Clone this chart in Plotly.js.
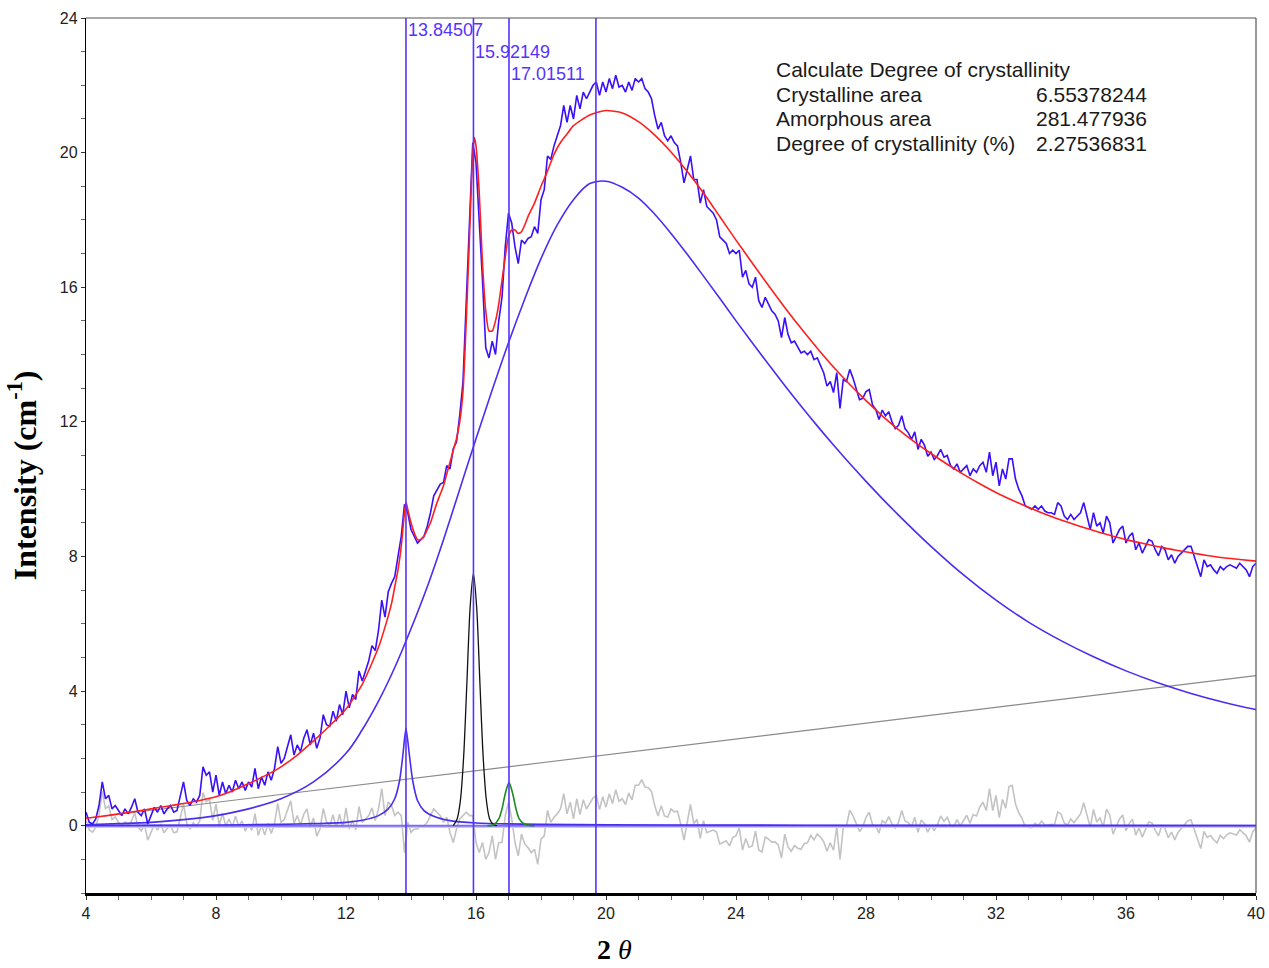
<!DOCTYPE html>
<html>
<head>
<meta charset="utf-8">
<script src="https://cdn.plot.ly/plotly-3.0.1.min.js"></script>
<style>html,body{margin:0;padding:0;background:#fff;}#chart{width:1269px;height:968px;}</style>
</head>
<body>
<div id="chart"></div>
<script>
// ---- data ----
// measured pattern, sampled every 0.1 degree from 2θ = 4 to 40
const dataStart = 4;
const dataStep = 0.1;
const measured = [
  0.4, 0.1, 0.05, 0.2, 0.6, 1.3, 0.8, 0.9, 0.5, 0.6,
  0.45, 0.3, 0.5, 0.35, 0.55, 0.8, 0.4, 0.3, 0.5, 0.05,
  0.3, 0.55, 0.4, 0.6, 0.35, 0.5, 0.6, 0.4, 0.45, 0.9,
  1.3, 0.75, 0.6, 0.8, 0.7, 0.9, 1.75, 1.5, 1.6, 1.0,
  1.5, 0.9, 1.3, 0.95, 1.2, 1.0, 1.35, 1.1, 1.3, 1.05,
  1.3, 1.15, 1.7, 1.1, 1.45, 1.2, 1.6, 1.35, 1.7, 2.35,
  1.85, 2.0, 2.35, 2.7, 2.1, 2.4, 2.2, 2.6, 2.85, 2.4,
  2.75, 2.3, 2.6, 3.3, 3.0, 2.95, 3.4, 3.1, 3.6, 3.3,
  4.0, 3.5, 3.9, 3.75, 4.6, 4.3, 4.6, 4.9, 5.35, 5.2,
  5.8, 6.7, 6.2, 6.95, 7.2, 7.4, 8.0, 8.6, 9.55, 9.3,
  8.8, 8.6, 8.4, 8.5, 8.6, 8.9, 9.3, 9.8, 10.0, 10.15,
  10.2, 10.7, 10.6, 11.2, 11.4, 12.2, 13.2, 15.4, 17.8, 20.3,
  19.7, 18.0, 16.2, 14.2, 13.9, 14.4, 14.0, 15.0, 15.7, 17.2,
  18.2, 17.9, 17.2, 16.7, 17.4, 17.3, 17.45, 17.5, 17.8, 17.6,
  18.6, 18.9, 19.9, 19.8, 20.2, 20.5, 20.8, 21.4, 20.9, 21.4,
  21.0, 21.7, 21.3, 21.8, 21.6, 21.8, 22.0, 22.1, 21.7, 22.1,
  21.8, 22.2, 21.9, 22.3, 21.95, 22.0, 21.8, 22.1, 21.85, 22.2,
  22.1, 22.2, 21.9, 21.8, 21.6, 21.1, 20.7, 20.9, 20.5, 20.35,
  20.5, 20.3, 20.2, 19.7, 19.1, 19.5, 19.9, 19.2, 19.2, 18.5,
  18.9, 18.4, 18.3, 18.2, 18.0, 17.5, 17.4, 17.3, 17.0, 17.1,
  17.0, 17.1, 16.3, 16.5, 16.1, 16.0, 16.3, 15.6, 15.4, 15.7,
  15.5, 15.3, 15.2, 15.0, 14.5, 15.1, 14.6, 14.35, 14.4, 14.2,
  14.05, 14.1, 14.0, 14.1, 13.85, 13.9, 13.7, 13.45, 13.06, 13.2,
  12.87, 13.46, 12.4, 13.25, 13.2, 13.56, 13.3, 12.95, 12.66, 12.7,
  12.9, 12.96, 12.5, 12.37, 12.07, 12.35, 12.18, 12.3, 12.0, 11.8,
  11.9, 12.18, 11.8, 11.68, 11.48, 11.7, 11.18, 11.48, 11.3, 10.98,
  11.1, 10.88, 11.0, 11.18, 10.95, 11.0, 10.7, 10.6, 10.75, 10.5,
  10.6, 10.7, 10.4, 10.6, 10.5, 10.7, 10.8, 10.5, 11.1, 10.4,
  10.8, 10.1, 10.6, 10.3, 10.9, 10.9, 10.3, 10.0, 9.8, 9.5,
  9.45, 9.4, 9.5, 9.4, 9.5, 9.35, 9.3, 9.3, 9.25, 9.6,
  9.5, 9.2, 9.1, 9.25, 9.1, 9.2, 9.3, 9.6, 9.2, 8.8,
  9.3, 8.9, 9.0, 8.7, 9.2, 9.0, 8.4, 8.6, 8.8, 8.9,
  8.4, 8.6, 8.7, 8.2, 8.4, 8.1, 8.3, 8.5, 8.45, 8.2,
  8.02, 8.3, 8.2, 7.9, 8.05, 7.8, 8.0, 8.1, 8.2, 8.3,
  8.3, 8.0, 7.7, 7.4, 7.9, 7.7, 7.75, 7.6, 7.5, 7.7,
  7.6, 7.7, 7.75, 7.7, 7.65, 7.8, 7.7, 7.6, 7.4, 7.7,
  7.8
];

// residual (grey), same sampling
const residual = [
  0.18, -0.13, -0.19, -0.05, 0.33, 1.02, 0.51, 0.59, 0.18, 0.26,
  0.10, -0.06, 0.12, -0.04, 0.14, 0.38, -0.04, -0.15, 0.03, -0.43,
  -0.2, 0.03, -0.13, 0.05, -0.21, -0.08, 0.0, -0.21, -0.18, 0.26,
  0.64, 0.07, -0.10, 0.09, -0.03, 0.15, 0.98, 0.71, 0.78, 0.16,
  0.64, 0.01, 0.37, -0.01, 0.2, -0.03, 0.28, -0.02, 0.14, -0.16,
  0.05, -0.14, 0.36, -0.29, 0.02, -0.28, 0.07, -0.23, 0.06, 0.66,
  0.1, 0.18, 0.46, 0.74, 0.07, 0.3, 0.02, 0.34, 0.5, -0.03,
  0.23, -0.31, -0.1, 0.51, 0.12, -0.02, 0.33, -0.06, 0.34, -0.07,
  0.53, -0.1, 0.16, -0.13, 0.57, 0.1, 0.2, 0.3, 0.53, 0.15,
  0.5, 1.1, 0.3, 0.7, 0.6, 0.3, 0.4, 0.3, -0.8, 0.1,
  -0.2, -0.1, -0.1, 0.0, 0.0, 0.1, 0.3, 0.5, 0.4, 0.3,
  0.1, 0.25, -0.2, -0.5, -0.1, 0.2, 0.3, 0.4, 0.3, 0.3,
  -0.5, -0.8, -0.5, -1.0, -0.8, -0.3, -1.0, -0.5, -0.5, 0.3,
  0.7, 0.2, -0.5, -0.9, -0.25, -0.55, -0.65, -0.8, -0.7, -1.15,
  -0.4, -0.3, 0.45, 0.1, 0.25, 0.35, 0.5, 0.95, 0.35, 0.7,
  0.2, 0.8, 0.33, 0.77, 0.5, 0.65, 0.82, 0.9, 0.48, 0.86,
  0.55, 0.95, 0.66, 1.07, 0.73, 0.8, 0.63, 0.97, 0.77, 1.2,
  1.2, 1.37, 1.15, 1.13, 1.02, 0.6, 0.29, 0.59, 0.29, 0.25,
  0.5, 0.41, 0.43, 0.05, -0.43, 0.1, 0.63, 0.06, 0.19, -0.38,
  0.15, -0.21, -0.17, -0.13, -0.19, -0.55, -0.5, -0.45, -0.6, -0.35,
  -0.3, -0.06, -0.72, -0.38, -0.64, -0.6, -0.16, -0.72, -0.78, -0.34,
  -0.4, -0.49, -0.48, -0.57, -0.96, -0.25, -0.63, -0.76, -0.59, -0.67,
  -0.7, -0.53, -0.51, -0.29, -0.42, -0.25, -0.34, -0.48, -0.76, -0.51,
  -0.73, -0.04, -1.0, -0.05, 0.0, 0.46, 0.29, 0.03, -0.17, -0.04,
  0.25, 0.4, 0.03, -0.01, -0.22, 0.15, 0.07, 0.27, 0.05, -0.07,
  0.1, 0.45, 0.14, 0.09, -0.04, 0.25, -0.2, 0.17, 0.06, -0.19,
  0.0, -0.15, 0.04, 0.29, 0.13, 0.25, 0.01, -0.03, 0.18, -0.01,
  0.15, 0.31, 0.07, 0.33, 0.29, 0.55, 0.7, 0.45, 1.1, 0.45,
  0.9, 0.24, 0.78, 0.52, 1.16, 1.2, 0.64, 0.38, 0.22, -0.04,
  -0.05, -0.06, 0.07, 0.0, 0.14, 0.02, 0.01, 0.04, 0.03, 0.41,
  0.35, 0.08, 0.02, 0.2, 0.09, 0.22, 0.35, 0.68, 0.32, -0.05,
  0.48, 0.11, 0.24, -0.04, 0.49, 0.32, -0.25, -0.03, 0.2, 0.32,
  -0.15, 0.07, 0.19, -0.28, -0.06, -0.34, -0.12, 0.11, 0.08, -0.14,
  -0.3, 0.0, -0.08, -0.36, -0.19, -0.42, -0.2, -0.08, 0.03, 0.15,
  0.17, -0.11, -0.4, -0.68, -0.17, -0.35, -0.29, -0.42, -0.51, -0.29,
  -0.38, -0.27, -0.21, -0.24, -0.28, -0.12, -0.21, -0.3, -0.49, -0.18,
  -0.07
];

// total fit (red)
const fitX = [4,4.5,5,5.5,6,6.5,7,7.5,8,8.5,9,9.5,10,10.5,11,11.5,12,12.5,13,13.2,13.4,13.5,13.6,13.7,13.8,13.85,13.9,14,14.1,14.2,14.3,14.4,14.5,14.6,14.7,14.8,14.9,15,15.1,15.2,15.3,15.4,15.5,15.6,15.7,15.8,15.9,15.95,16,16.1,16.2,16.3,16.4,16.5,16.6,16.7,16.8,16.9,17,17.1,17.2,17.3,17.4,17.5,17.6,17.8,18,18.2,18.4,18.6,18.8,19,19.5,20,20.5,21,21.5,22,22.5,23,23.5,24,24.5,25,25.5,26,26.5,27,27.5,28,28.5,29,29.5,30,30.5,31,31.5,32,32.5,33,33.5,34,34.5,35,35.5,36,36.5,37,37.5,38,38.5,39,39.5,40];
const fitY = [0.22,0.28,0.35,0.42,0.5,0.58,0.66,0.75,0.86,1.03,1.25,1.48,1.75,2.1,2.52,2.97,3.47,4.2,5.3,5.9,6.6,7.1,7.6,8.3,9.3,9.6,9.4,9.0,8.7,8.5,8.5,8.6,8.8,9.0,9.3,9.6,9.85,10.1,10.45,10.8,11.15,11.5,12.0,12.9,15.0,17.5,20.0,20.45,20.2,18.8,16.7,15.3,14.7,14.7,15.0,15.5,16.2,16.9,17.5,17.7,17.7,17.6,17.65,17.85,18.1,18.5,19.0,19.45,19.95,20.3,20.55,20.8,21.12,21.25,21.18,20.92,20.52,20.02,19.44,18.8,18.1,17.4,16.72,16.05,15.4,14.78,14.19,13.63,13.11,12.63,12.18,11.77,11.4,11.06,10.74,10.44,10.16,9.9,9.67,9.46,9.26,9.08,8.92,8.77,8.63,8.5,8.39,8.29,8.19,8.11,8.03,7.96,7.91,7.86];

// amorphous halo (blue)
const amorphX = [4,5,6,7,8,9,10,11,12,12.5,13,13.5,14,14.5,15,15.5,16,16.5,17,17.5,18,18.5,19,19.5,20,20.5,21,21.5,22,22.5,23,23.5,24,24.5,25,25.5,26,26.5,27,27.5,28,28.5,29,30,31,32,33,34,35,36,37,38,39,40];
const amorphY = [0.03,0.06,0.1,0.18,0.3,0.5,0.8,1.3,2.15,2.85,3.7,4.7,5.85,7.1,8.5,10.0,11.5,12.95,14.35,15.65,16.85,17.85,18.6,19.08,19.15,18.97,18.65,18.17,17.6,16.98,16.33,15.67,15.0,14.35,13.71,13.08,12.47,11.88,11.31,10.76,10.23,9.72,9.23,8.3,7.45,6.7,6.05,5.5,5.02,4.6,4.24,3.93,3.67,3.45];

// crystalline peak at 13.84507 (blue)
const peak1X = [4,8,10,11,12,12.5,13,13.3,13.5,13.65,13.75,13.845,13.95,14.05,14.2,14.4,14.7,15.2,16,18,22,30,40];
const peak1Y = [0.005,0.02,0.04,0.06,0.1,0.16,0.3,0.5,0.8,1.35,2.1,2.9,2.1,1.35,0.75,0.45,0.28,0.15,0.08,0.04,0.02,0.01,0.005];

// crystalline peak at 15.92149 (black)
const peak2X = [15.3,15.42,15.52,15.62,15.72,15.82,15.92,16.02,16.12,16.22,16.32,16.42,16.55,16.65];
const peak2Y = [0.0,0.2,0.75,2.05,4.25,6.5,7.5,6.5,4.25,2.05,0.75,0.2,0.02,0.0];

// crystalline peak at 17.01511 (green)
const peak3X = [16.35,16.55,16.7,16.8,16.9,17.015,17.13,17.23,17.33,17.48,17.65,17.8];
const peak3Y = [0.0,0.03,0.2,0.5,0.95,1.28,0.95,0.5,0.2,0.05,0.01,0.0];

// linear background (grey)
const bgX = [4, 40];
const bgY = [0.22, 4.46];

// zero lines
const zeroX = [4, 40];
const zeroBlueY = [0, 0];
const zeroGreyY = [-0.05, -0.05];

// peak marker lines and their labels
const markerX = [13.84507, 15.92149, 17.01511, 19.69];
const markerLabels = ['13.84507', '15.92149', '17.01511'];
const markerLabelY = [0.986, 0.961, 0.936];

// result table
const tableLabels = ['Calculate Degree of crystallinity', 'Crystalline area', 'Amorphous area', 'Degree of crystallinity (%)'];
const tableValues = ['', '6.55378244', '281.477936', '2.27536831'];
const tableRowY = [0.9406, 0.9120, 0.8846, 0.8571];

const xTicks = [4, 8, 12, 16, 20, 24, 28, 32, 36, 40];
const yTicks = [0, 4, 8, 12, 16, 20, 24];

// ---- drawing ----
const BLUE = '#3a10f8';
const LINEBLUE = '#5533ff';
const sans = 'Liberation Sans, Arial, sans-serif';
const serif = 'Liberation Serif, Times New Roman, serif';

const traces = [
  {x0: dataStart, dx: dataStep, y: residual, type: 'scatter', mode: 'lines',
   line: {color: '#c3c3c3', width: 1.6}, hoverinfo: 'skip'},
  {x: zeroX, y: zeroGreyY, type: 'scatter', mode: 'lines',
   line: {color: '#cfcfcf', width: 1.5}, hoverinfo: 'skip'},
  {x: zeroX, y: zeroBlueY, type: 'scatter', mode: 'lines',
   line: {color: '#7a68ff', width: 2}, hoverinfo: 'skip'},
  {x: bgX, y: bgY, type: 'scatter', mode: 'lines',
   line: {color: '#8a8a8a', width: 1.1}, hoverinfo: 'skip'},
  {x: amorphX, y: amorphY, type: 'scatter', mode: 'lines',
   line: {color: '#4a2df2', width: 1.6, shape: 'spline', smoothing: 1}, hoverinfo: 'skip'},
  {x: peak1X, y: peak1Y, type: 'scatter', mode: 'lines',
   line: {color: '#4a2df2', width: 1.6, shape: 'spline', smoothing: 0.6}, hoverinfo: 'skip'},
  {x: peak2X, y: peak2Y, type: 'scatter', mode: 'lines',
   line: {color: '#111111', width: 1.3, shape: 'spline', smoothing: 0.8}, hoverinfo: 'skip'},
  {x: peak3X, y: peak3Y, type: 'scatter', mode: 'lines',
   line: {color: '#1f8a1f', width: 1.6, shape: 'spline', smoothing: 0.8}, hoverinfo: 'skip'},
  {x0: dataStart, dx: dataStep, y: measured, type: 'scatter', mode: 'lines',
   line: {color: BLUE, width: 1.6}, hoverinfo: 'skip'},
  {x: fitX, y: fitY, type: 'scatter', mode: 'lines',
   line: {color: '#ff1f1f', width: 1.6, shape: 'spline', smoothing: 0.6}, hoverinfo: 'skip'}
];

const shapes = markerX.map(v => ({
  type: 'line', xref: 'x', yref: 'paper', x0: v, x1: v, y0: 0, y1: 1,
  line: {color: LINEBLUE, width: 1.6}
}));
// top and right frame
shapes.push({type: 'line', xref: 'paper', yref: 'paper', x0: 0, x1: 1, y0: 1, y1: 1, line: {color: '#555', width: 1.2}});
shapes.push({type: 'line', xref: 'paper', yref: 'paper', x0: 1, x1: 1, y0: 0, y1: 1, line: {color: '#555', width: 1.2}});

const annotations = [];
markerLabels.forEach((t, i) => annotations.push({
  text: t, x: markerX[i], xref: 'x', y: markerLabelY[i], yref: 'paper',
  xanchor: 'left', yanchor: 'middle', showarrow: false, xshift: 0,
  font: {family: sans, size: 18, color: LINEBLUE}
}));
tableLabels.forEach((t, i) => annotations.push({
  text: t, x: 0.5897, xref: 'paper', y: tableRowY[i], yref: 'paper',
  xanchor: 'left', yanchor: 'middle', showarrow: false, xshift: -2,
  font: {family: sans, size: 21, color: '#1a1a1a'}
}));
tableValues.forEach((t, i) => { if (t) annotations.push({
  text: t, x: 0.9068, xref: 'paper', y: tableRowY[i], yref: 'paper',
  xanchor: 'right', yanchor: 'middle', showarrow: false, xshift: 2,
  font: {family: sans, size: 21, color: '#1a1a1a'}
}); });
annotations.push({
  text: '<b>Intensity (cm<sup>-1</sup>)</b>', x: -0.0545, xref: 'paper', y: 0.4777, yref: 'paper',
  textangle: -90, xanchor: 'center', yanchor: 'middle', showarrow: false,
  font: {family: serif, size: 32, color: '#000'}
});
annotations.push({
  text: '<b>2</b> <i>θ</i>', x: 0.452, xref: 'paper', y: -0.064, yref: 'paper',
  xanchor: 'center', yanchor: 'middle', showarrow: false,
  font: {family: serif, size: 28, color: '#000'}
});

const layout = {
  width: 1269, height: 968,
  margin: {l: 86, r: 13, t: 18, b: 75},
  paper_bgcolor: '#ffffff', plot_bgcolor: '#ffffff',
  showlegend: false,
  xaxis: {
    range: [4, 40], tickvals: xTicks, ticktext: xTicks.map(String),
    ticks: 'outside', ticklen: 4, tickcolor: '#333', tickwidth: 1,
    showline: true, linecolor: '#000', linewidth: 2.5,
    showgrid: false, zeroline: false,
    minor: {dtick: 1, tick0: 4, ticks: 'outside', ticklen: 4, tickcolor: '#666', showgrid: false},
    tickfont: {family: sans, size: 16, color: '#222'}
  },
  yaxis: {
    range: [-2, 24], tickvals: yTicks, ticktext: yTicks.map(String),
    ticks: 'outside', ticklen: 4, tickcolor: '#333', tickwidth: 1,
    showline: true, linecolor: '#000', linewidth: 1.2,
    showgrid: false, zeroline: false,
    minor: {dtick: 1, tick0: 0, ticks: 'outside', ticklen: 4, tickcolor: '#666', showgrid: false},
    tickfont: {family: sans, size: 16, color: '#222'}
  },
  shapes: shapes,
  annotations: annotations
};

Plotly.newPlot('chart', traces, layout, {staticPlot: true, displayModeBar: false});
</script>
</body>
</html>
